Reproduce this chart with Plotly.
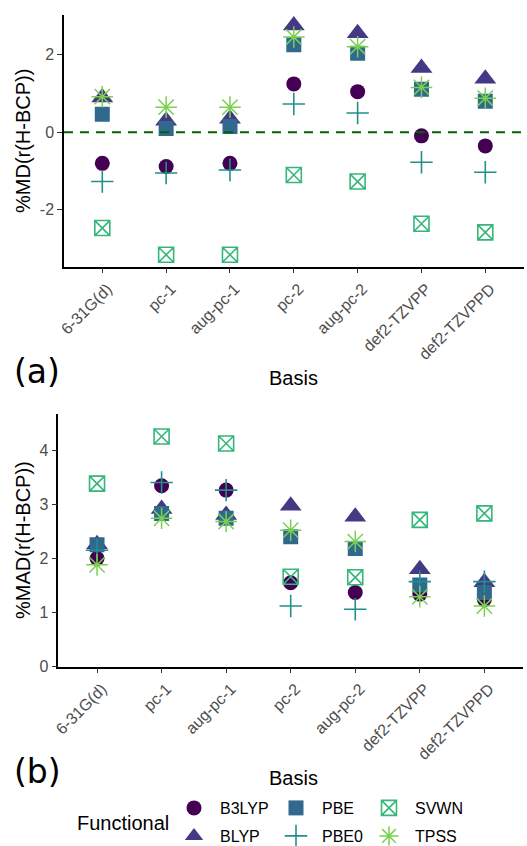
import plotly.graph_objects as go

W, H = 527, 846

basis = ["6-31G(d)", "pc-1", "aug-pc-1", "pc-2", "aug-pc-2", "def2-TZVPP", "def2-TZVPPD"]
functionals = ["B3LYP", "BLYP", "PBE", "PBE0", "SVWN", "TPSS"]

# %MD values (panel a)
md_b3lyp = [-0.80, -0.88, -0.80, 1.25, 1.05, -0.09, -0.35]
md_blyp = [0.90, 0.30, 0.35, 2.76, 2.56, 1.66, 1.38]
md_pbe = [0.47, 0.10, 0.15, 2.26, 2.04, 1.11, 0.80]
md_pbe0 = [-1.27, -1.05, -0.97, 0.73, 0.50, -0.77, -1.03]
md_svwn = [-2.47, -3.16, -3.16, -1.10, -1.27, -2.36, -2.58]
md_tpss = [0.92, 0.65, 0.65, 2.46, 2.21, 1.16, 0.88]

# %MAD values (panel b)
mad_b3lyp = [2.00, 3.34, 3.26, 1.55, 1.37, 1.34, 1.24]
mad_blyp = [2.26, 2.91, 2.80, 2.97, 2.77, 1.80, 1.56]
mad_pbe = [2.25, 2.83, 2.74, 2.40, 2.18, 1.51, 1.37]
mad_pbe0 = [2.15, 3.40, 3.26, 1.12, 1.06, 1.57, 1.57]
mad_svwn = [3.38, 4.25, 4.12, 1.66, 1.65, 2.71, 2.83]
mad_tpss = [1.88, 2.74, 2.68, 2.52, 2.31, 1.29, 1.12]

md_ticks = [-2, 0, 2]
md_ticktext = ["-2", "0", "2"]
mad_ticks = [0, 1, 2, 3, 4]
mad_ticktext = ["0", "1", "2", "3", "4"]

md_data = [md_b3lyp, md_blyp, md_pbe, md_pbe0, md_svwn, md_tpss]
mad_data = [mad_b3lyp, mad_blyp, mad_pbe, mad_pbe0, mad_svwn, mad_tpss]

colors = ["#440154", "#443A83", "#31688E", "#21908C", "#35B779", "#7AD151"]
symbols = ["circle", "triangle-up", "square", "cross-thin-open", "square-x-open", "asterisk-open"]
sizes = [15, 19, 15, 16, 15, 18]
lwidths = [0, 0, 0, 1.6, 1.6, 1.5]

# legend slots: (symbol center x, row y) in pixels
leg_pos = [(196, 808), (196, 836), (298, 808), (298, 836), (391, 808), (391, 836)]

FONT = "Liberation Sans, Arial, sans-serif"

fig = go.Figure()
for i, f in enumerate(functionals):
    lname = "legend" if i == 0 else f"legend{i+1}"
    for panel, data in ((1, md_data), (2, mad_data)):
        fig.add_trace(go.Scatter(
            x=basis, y=data[i], mode="markers", name=f,
            xaxis="x" if panel == 1 else "x2",
            yaxis="y" if panel == 1 else "y2",
            marker=dict(symbol=symbols[i], size=sizes[i], color=colors[i],
                        line=dict(width=lwidths[i], color=colors[i])),
            showlegend=(panel == 1), legend=lname,
        ))

def px_x(v):
    return v / W

def px_y(v):
    return 1 - v / H

axis_common = dict(showline=True, linecolor="black", linewidth=1.5,
                   ticks="outside", ticklen=5, tickwidth=1.2, tickcolor="#333333",
                   showgrid=False, zeroline=False, automargin=False,
                   tickfont=dict(family=FONT, size=16, color="#4D4D4D"))

layout = dict(
    width=W, height=H,
    margin=dict(l=0, r=0, t=0, b=0, autoexpand=False),
    paper_bgcolor="white", plot_bgcolor="white",
    font=dict(family=FONT, size=16, color="black"),
    xaxis=dict(domain=[64 / W, 523.6 / W], anchor="y", type="category",
               range=[-0.6, 6.6], tickangle=-45, ticklabelshift=5, **axis_common),
    yaxis=dict(domain=[px_y(266.7), px_y(15)], anchor="x",
               range=[-3.467, 3.028], tickvals=md_ticks, ticktext=md_ticktext,
               **axis_common),
    xaxis2=dict(domain=[58.3 / W, 523.1 / W], anchor="y2", type="category",
                range=[-0.6, 6.6], tickangle=-45, ticklabelshift=5, **axis_common),
    yaxis2=dict(domain=[px_y(666.7), px_y(414)], anchor="x2",
                range=[0, 4.665], tickvals=mad_ticks, ticktext=mad_ticktext,
                **axis_common),
)

for i, (sx, sy) in enumerate(leg_pos):
    lname = "legend" if i == 0 else f"legend{i+1}"
    layout[lname] = dict(x=px_x(sx - 28), y=px_y(sy), xanchor="left", yanchor="middle",
                         orientation="v", bgcolor="rgba(0,0,0,0)", borderwidth=0,
                         font=dict(family=FONT, size=16, color="black"),
                         itemsizing="trace", itemwidth=42, tracegroupgap=0)

fig.update_layout(**layout)

fig.add_shape(type="line", xref="x domain", yref="y", x0=0, x1=1, y0=0, y1=0,
              line=dict(color="#006400", width=2, dash="9px,7px"), layer="above")

ann = [
    dict(text="%MD(r(H-BCP))", x=px_x(23), y=px_y(141), textangle=-90, size=20, fam=FONT),
    dict(text="%MAD(r(H-BCP))", x=px_x(23), y=px_y(540), textangle=-90, size=20, fam=FONT),
    dict(text="Basis", x=px_x(293), y=px_y(378), textangle=0, size=20, fam=FONT),
    dict(text="Basis", x=px_x(293), y=px_y(778), textangle=0, size=20, fam=FONT),
    dict(text="(a)", x=px_x(37), y=px_y(371), textangle=0, size=33, fam="DejaVu Sans"),
    dict(text="(b)", x=px_x(37), y=px_y(771), textangle=0, size=33, fam="DejaVu Sans"),
    dict(text="Functional", x=px_x(123), y=px_y(823), textangle=0, size=20, fam=FONT),
]
for a in ann:
    fig.add_annotation(text=a["text"], x=a["x"], y=a["y"], xref="paper", yref="paper",
                       xanchor="center", yanchor="middle", showarrow=False,
                       textangle=a["textangle"],
                       font=dict(family=a["fam"], size=a["size"], color="black"))

fig.write_html("out.html")
